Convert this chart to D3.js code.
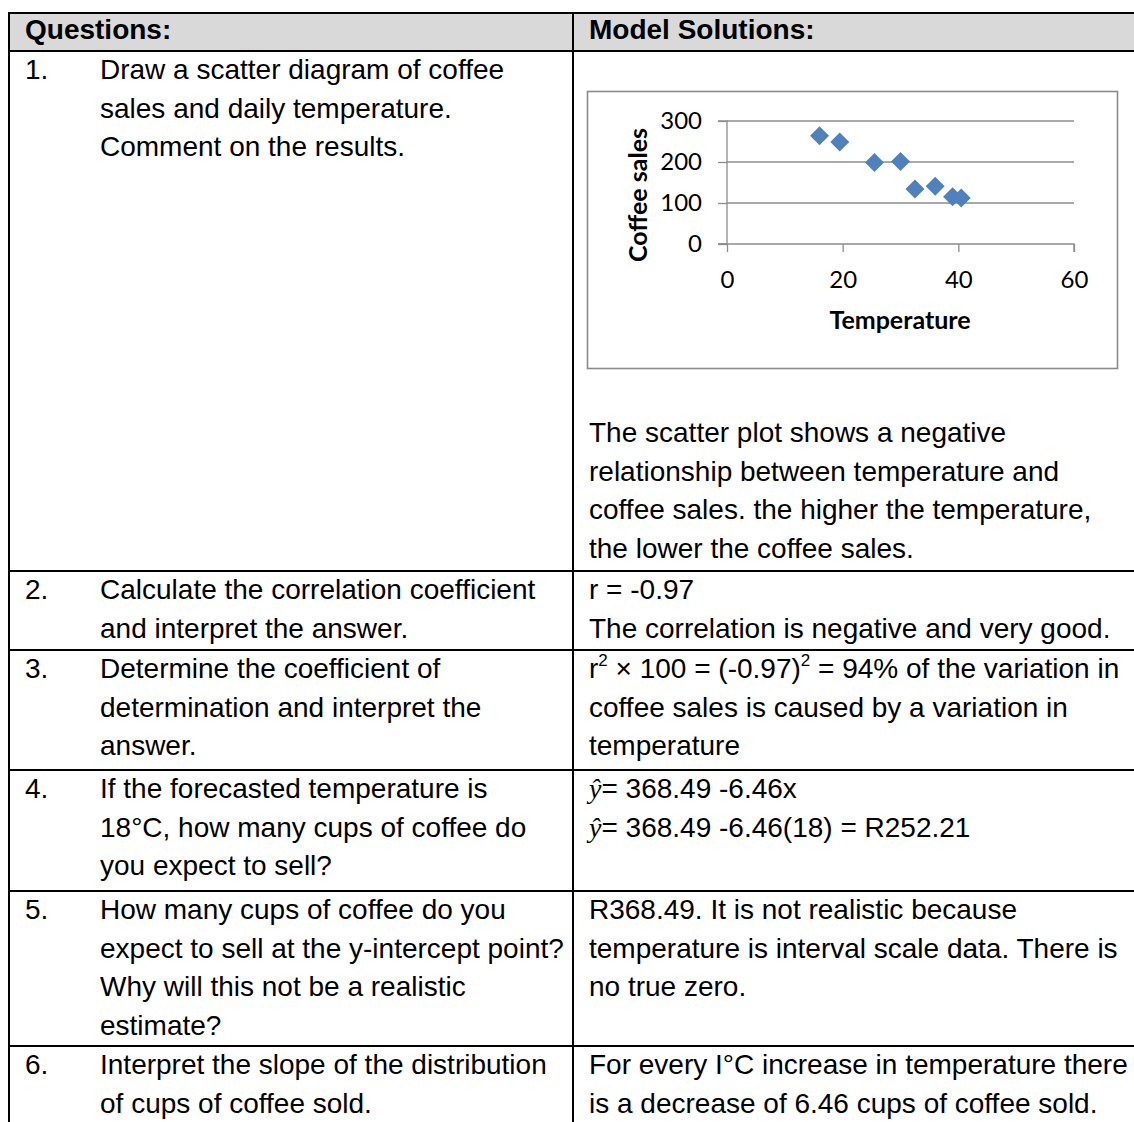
<!DOCTYPE html>
<html>
<head>
<meta charset="utf-8">
<script src="https://cdn.jsdelivr.net/npm/d3@7"></script>
<style>
  html, body { margin: 0; padding: 0; background: #fff; }
  svg { display: block; }
</style>
</head>
<body>
<script>
// Coffee sales vs daily temperature
const temperature = [16, 19.5, 25.5, 30, 32.5, 36, 39, 40.5];
const coffeeSales = [264, 249, 199, 201, 134, 141, 115, 112];
const xTicks = [0, 20, 40, 60];
const yTicks = [0, 100, 200, 300];

// Worksheet table text ("^2" = superscript two, "ŷ" = italic y-hat)
const headers = ["Questions:", "Model Solutions:"];
const questionNumbers = ["1.", "2.", "3.", "4.", "5.", "6."];
const questionLines = [
  ["Draw a scatter diagram of coffee", "sales and daily temperature.", "Comment on the results."],
  ["Calculate the correlation coefficient", "and interpret the answer."],
  ["Determine the coefficient of", "determination and interpret the", "answer."],
  ["If the forecasted temperature is", "18°C, how many cups of coffee do", "you expect to sell?"],
  ["How many cups of coffee do you", "expect to sell at the y-intercept point?", "Why will this not be a realistic", "estimate?"],
  ["Interpret the slope of the distribution", "of cups of coffee sold."]
];
const answerLines = [
  ["The scatter plot shows a negative", "relationship between temperature and", "coffee sales. the higher the temperature,", "the lower the coffee sales."],
  ["r = -0.97", "The correlation is negative and very good."],
  ["r^2 × 100 = (-0.97)^2 = 94% of the variation in", "coffee sales is caused by a variation in", "temperature"],
  ["ŷ= 368.49 -6.46x", "ŷ= 368.49 -6.46(18) = R252.21"],
  ["R368.49. It is not realistic because", "temperature is interval scale data. There is", "no true zero."],
  ["For every I°C increase in temperature there", "is a decrease of 6.46 cups of coffee sold."]
];

const W = 1134, H = 1122;
const svg = d3.select("body").append("svg").attr("width", W).attr("height", H);

// table geometry
const tableLeft = 9, colSplit = 573, tableTop = 12, headerBottom = 51;
const rowTops = [51, 571, 650, 770, 891, 1046];
const lineGap = 38.7;
const bodyFont = "'Liberation Sans', Arial, sans-serif";

// header band
svg.append("rect").attr("x", tableLeft).attr("y", tableTop)
  .attr("width", W - tableLeft).attr("height", headerBottom - tableTop)
  .attr("fill", "#d9d9d9");

// one line of cell text, with superscripts and the italic y-hat
function addLine(g, x, y, str) {
  const t = g.append("text").attr("x", x).attr("y", y)
    .attr("font-family", bodyFont).attr("font-size", 28).attr("fill", "#000");
  let shift = 0;
  str.split(/(\^2|ŷ)/).filter(s => s.length).forEach(seg => {
    let span;
    if (seg === "^2") {
      span = t.append("tspan").attr("font-size", 17).attr("dy", shift - 12).text("2");
      shift = 12;
      return;
    } else if (seg === "ŷ") {
      span = t.append("tspan").attr("font-family", "'Liberation Serif', 'Times New Roman', serif")
        .attr("font-style", "italic").text("ŷ");
    } else {
      span = t.append("tspan").text(seg);
    }
    if (shift) { span.attr("dy", shift); shift = 0; }
  });
  return t;
}

const textG = svg.append("g");
// headers
textG.append("text").attr("x", 25).attr("y", 39).attr("font-family", bodyFont)
  .attr("font-size", 28).attr("font-weight", "bold").text(headers[0]);
textG.append("text").attr("x", 589).attr("y", 39).attr("font-family", bodyFont)
  .attr("font-size", 28).attr("font-weight", "bold").text(headers[1]);

questionLines.forEach((lines, i) => {
  const base = rowTops[i] + 28;
  textG.append("text").attr("x", 25).attr("y", base).attr("font-family", bodyFont)
    .attr("font-size", 28).text(questionNumbers[i]);
  lines.forEach((ln, j) => addLine(textG, 100, base + j * lineGap, ln));
});
answerLines.forEach((lines, i) => {
  const base = i === 0 ? 442 : rowTops[i] + 28;
  lines.forEach((ln, j) => addLine(textG, 589, base + j * lineGap, ln));
});

// table rules
const rules = svg.append("g").attr("stroke", "#000").attr("stroke-width", 2);
rules.append("line").attr("x1", tableLeft - 1).attr("x2", W).attr("y1", tableTop + 1).attr("y2", tableTop + 1);
rowTops.forEach(y => rules.append("line").attr("x1", tableLeft - 1).attr("x2", W).attr("y1", y).attr("y2", y));
rules.append("line").attr("x1", tableLeft).attr("x2", tableLeft).attr("y1", tableTop).attr("y2", H);
rules.append("line").attr("x1", colSplit).attr("x2", colSplit).attr("y1", tableTop).attr("y2", H);

// ---- scatter chart ----
const chartFont = "Lato, 'Open Sans', sans-serif";
svg.append("rect").attr("x", 587.5).attr("y", 91.5).attr("width", 530).attr("height", 277)
  .attr("fill", "#fff").attr("stroke", "#8a8a8a").attr("stroke-width", 1.6);

const x = d3.scaleLinear().domain([0, 60]).range([727, 1074]);
const y = d3.scaleLinear().domain([0, 300]).range([244, 121]);
const axisColor = "#8c8c8c";

const grid = svg.append("g");
yTicks.filter(v => v > 0).forEach(v => {
  grid.append("line").attr("x1", x(0)).attr("x2", x(60)).attr("y1", y(v)).attr("y2", y(v))
    .attr("stroke", axisColor).attr("stroke-width", 1.3);
});

const yAxis = svg.append("g").attr("transform", `translate(${x(0)},0)`)
  .call(d3.axisLeft(y).tickValues(yTicks).tickSize(9).tickPadding(16));
const xAxis = svg.append("g").attr("transform", `translate(0,${y(0)})`)
  .call(d3.axisBottom(x).tickValues(xTicks).tickSize(8).tickPadding(19));
[yAxis, xAxis].forEach(a => {
  a.select(".domain").attr("stroke", axisColor).attr("stroke-width", 1.3);
  a.selectAll(".tick line").attr("stroke", axisColor).attr("stroke-width", 1.3);
  a.selectAll(".tick text").attr("font-family", chartFont).attr("font-size", 24).attr("fill", "#000");
});
yAxis.select(".domain").attr("d", `M-9,${y(300)}H0V${y(0)}H-9`);
xAxis.select(".domain").attr("d", `M${x(0) - 9},0H${x(60)}V8`);

svg.append("text").attr("transform", `translate(647,195) rotate(-90)`)
  .attr("text-anchor", "middle").attr("font-family", chartFont).attr("font-weight", "bold")
  .attr("font-size", 25).text("Coffee sales");
svg.append("text").attr("x", 900).attr("y", 329).attr("text-anchor", "middle")
  .attr("font-family", chartFont).attr("font-weight", "bold").attr("font-size", 25).text("Temperature");

const diamond = d3.symbol().type(d3.symbolSquare).size(180);
svg.append("g").selectAll("path").data(temperature).join("path")
  .attr("d", diamond)
  .attr("transform", (t, i) => `translate(${x(t)},${y(coffeeSales[i])}) rotate(45)`)
  .attr("fill", "#4f81bd");
</script>
</body>
</html>
